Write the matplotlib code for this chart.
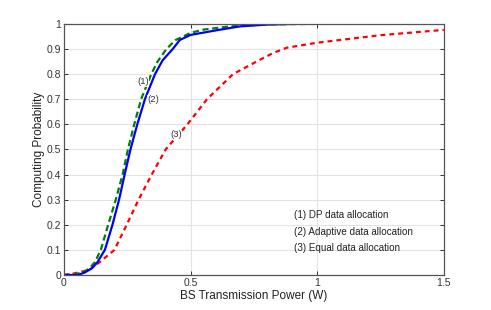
import matplotlib
matplotlib.use("Agg")
import matplotlib.pyplot as plt

plt.rcParams['font.family'] = ['Liberation Sans', 'DejaVu Sans']

# (1) DP data allocation
dp_x = [0, 0.04, 0.075, 0.1, 0.122, 0.146, 0.175, 0.205, 0.232, 0.253, 0.278, 0.305, 0.345, 0.37, 0.405, 0.44, 0.5, 0.55, 0.655, 0.8, 1.0, 1.5]
dp_y = [0, 0.002, 0.01, 0.025, 0.05, 0.1, 0.2, 0.3, 0.4, 0.5, 0.6, 0.7, 0.8, 0.85, 0.9, 0.935, 0.964, 0.977, 0.99, 0.998, 1.0, 1.0]

# (2) Adaptive data allocation
ad_x = [0, 0.056, 0.083, 0.11, 0.132, 0.162, 0.192, 0.218, 0.24, 0.263, 0.29, 0.32, 0.36, 0.39, 0.43, 0.458, 0.5, 0.55, 0.6, 0.695, 0.8, 0.9, 1.5]
ad_y = [0, 0.0, 0.01, 0.026, 0.05, 0.1, 0.2, 0.3, 0.4, 0.5, 0.6, 0.7, 0.8, 0.855, 0.9, 0.936, 0.956, 0.965, 0.974, 0.99, 0.997, 1.0, 1.0]

# (3) Equal data allocation
eq_x = [0, 0.04, 0.1, 0.14, 0.2, 0.248, 0.295, 0.347, 0.402, 0.488, 0.565, 0.668, 0.774, 0.826, 0.88, 1.0, 1.25, 1.5]
eq_y = [0, 0.006, 0.02, 0.05, 0.1, 0.2, 0.3, 0.4, 0.5, 0.6, 0.7, 0.8, 0.857, 0.884, 0.905, 0.925, 0.955, 0.976]

fig = plt.figure(figsize=(4.91, 3.10), dpi=100)
ax = fig.add_axes([0.130, 0.113, 0.774, 0.810])

ax.plot(eq_x, eq_y, color='red', lw=1.6, ls=(0, (2.2, 1.8)))
ax.plot(dp_x, dp_y, color='green', lw=1.6, ls=(0, (2.8, 1.6)))
ax.plot(ad_x, ad_y, color='blue', lw=1.6)

lbl = dict(fontsize=6.8, color='#333333', ha='center', va='center',
           bbox=dict(facecolor='white', edgecolor='none', pad=0.5))
ax.text(0.312, 0.769, '(1)', **lbl)
ax.text(0.355, 0.697, '(2)', **lbl)
ax.text(0.442, 0.558, '(3)', **lbl)

leg = dict(fontsize=7.1, color='#222222', ha='left', va='center')
ax.text(0.91, 0.239, '(1) DP data allocation', **leg)
ax.text(0.91, 0.172, '(2) Adaptive data allocation', **leg)
ax.text(0.91, 0.106, '(3) Equal data allocation', **leg)

ax.set_xlim(0, 1.5)
ax.set_ylim(0, 1)
ax.set_xticks([0, 0.5, 1, 1.5])
ax.set_xticklabels(['0', '0.5', '1', '1.5'])
ax.set_yticks([i / 10 for i in range(11)])
ax.set_yticklabels(['0', '0.1', '0.2', '0.3', '0.4', '0.5', '0.6', '0.7', '0.8', '0.9', '1'])
ax.grid(True, color='#e3e3e3', lw=0.8)
ax.set_axisbelow(True)
ax.tick_params(direction='in', top=True, right=True, labelsize=7.5,
               colors='#333333', length=3, width=0.7, pad=2)
for s in ax.spines.values():
    s.set_color('#555555')
    s.set_linewidth(0.9)

ax.set_xlabel('BS Transmission Power (W)', fontsize=8.5, color='#222222', labelpad=1.5)
ax.set_ylabel('Computing Probability', fontsize=8.5, color='#222222', labelpad=1)

fig.savefig('out.png', dpi=100)
